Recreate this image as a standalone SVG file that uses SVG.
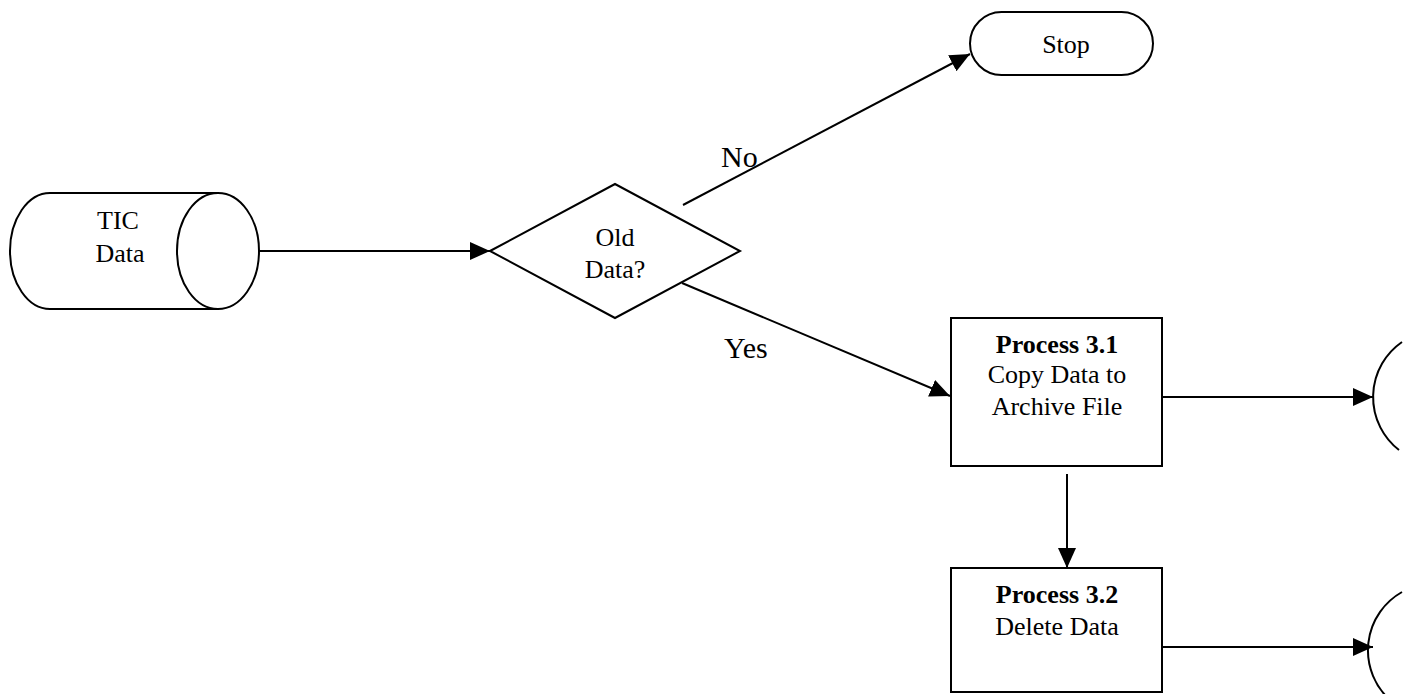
<svg xmlns="http://www.w3.org/2000/svg" width="1415" height="694" viewBox="0 0 1415 694">
  <style>
    .shape { fill: #ffffff; stroke: #000000; stroke-width: 2; }
    .edge { fill: none; stroke: #000000; stroke-width: 2; }
    .open { fill: none; stroke: #000000; stroke-width: 2; }
    text { font-family: "Liberation Serif", "Times New Roman", serif; fill: #000000; }
    .body { font-size: 26px; text-anchor: middle; }
    .bold { font-weight: bold; }
    .label { font-size: 30px; }
  </style>
  <defs>
    <marker id="arrow" markerUnits="userSpaceOnUse" markerWidth="22" markerHeight="20" refX="20" refY="9" orient="auto">
      <path d="M0,0 L20,9 L0,18 z" fill="#000000"/>
    </marker>
  </defs>

  <rect width="1415" height="694" fill="#ffffff"/>

  <!-- connectors -->
  <g id="connectors">
    <line class="edge" x1="259" y1="251" x2="490" y2="251" marker-end="url(#arrow)"/>
    <line class="edge" x1="683" y1="205" x2="970" y2="54" marker-end="url(#arrow)"/>
    <line class="edge" x1="682" y1="283" x2="950" y2="396" marker-end="url(#arrow)"/>
    <line class="edge" x1="1162" y1="397" x2="1373" y2="397" marker-end="url(#arrow)"/>
    <line class="edge" x1="1067" y1="474" x2="1067" y2="568" marker-end="url(#arrow)"/>
    <line class="edge" x1="1162" y1="647" x2="1373" y2="647" marker-end="url(#arrow)"/>
    <text class="label" x="721" y="167">No</text>
    <text class="label" x="724" y="358">Yes</text>
  </g>

  <!-- data store -->
  <g id="tic-data">
    <path class="shape" d="M218,193 L50,193 A40,58 0 0 0 50,309 L218,309 Z"/>
    <ellipse class="shape" cx="218" cy="251" rx="41" ry="58"/>
    <text class="body" x="118" y="229">TIC</text>
    <text class="body" x="120" y="262">Data</text>
  </g>

  <!-- decision -->
  <g id="old-data">
    <polygon class="shape" points="490,251 615,184 740,251 615,318"/>
    <text class="body" x="615" y="246">Old</text>
    <text class="body" x="615" y="278">Data?</text>
  </g>

  <!-- terminator -->
  <g id="stop">
    <rect class="shape" x="970" y="12" width="183" height="63" rx="31.5" ry="31.5"/>
    <text class="body" x="1066" y="53">Stop</text>
  </g>

  <!-- process 3.1 -->
  <g id="process-3-1">
    <rect class="shape" x="951" y="318" width="211" height="148"/>
    <text class="body bold" x="1057" y="353">Process 3.1</text>
    <text class="body" x="1057" y="383">Copy Data to</text>
    <text class="body" x="1057" y="415">Archive File</text>
  </g>

  <!-- process 3.2 -->
  <g id="process-3-2">
    <rect class="shape" x="951" y="568" width="211" height="124"/>
    <text class="body bold" x="1057" y="603">Process 3.2</text>
    <text class="body" x="1057" y="635">Delete Data</text>
  </g>

  <!-- off-page connectors -->
  <g id="connector-a">
    <path class="open" d="M1402,342 A67,67 0 0 0 1399,450"/>
  </g>
  <g id="connector-b">
    <path class="open" d="M1402,592 A67,67 0 0 0 1390,700"/>
  </g>
</svg>
